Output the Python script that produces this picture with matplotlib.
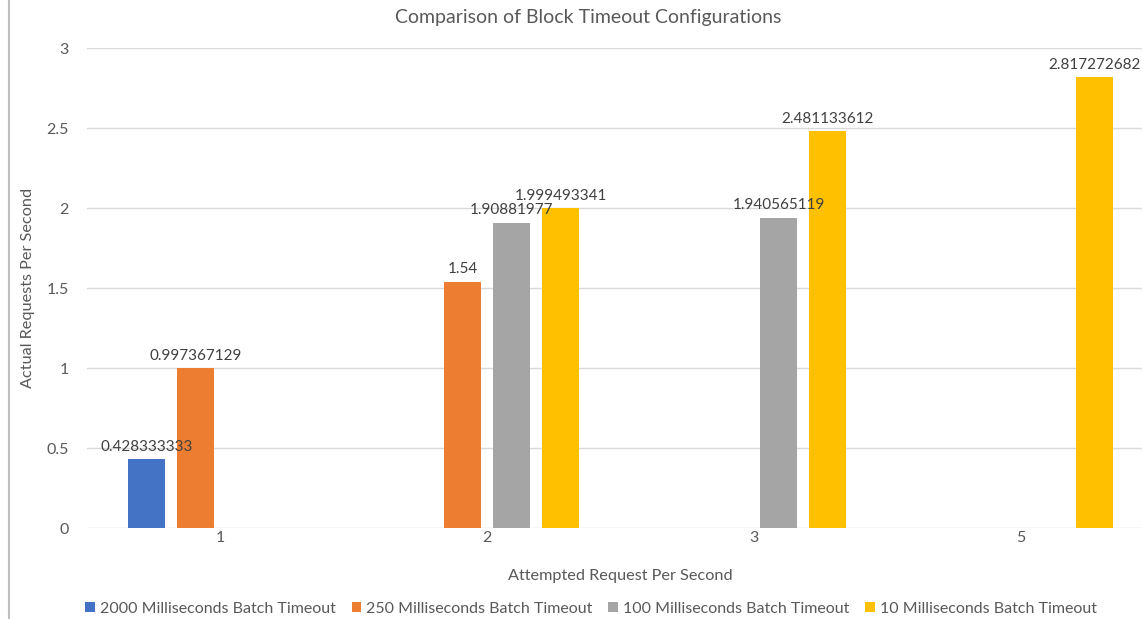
import numpy as np
import matplotlib.pyplot as plt
from matplotlib.lines import Line2D

# data
categories = ["1", "2", "3", "5"]
series_names = [
    "2000 Milliseconds Batch Timeout",
    "250 Milliseconds Batch Timeout",
    "100 Milliseconds Batch Timeout",
    "10 Milliseconds Batch Timeout",
]
timeout_2000 = [0.428333333, None, None, None]
timeout_250 = [0.997367129, 1.54, None, None]
timeout_100 = [None, 1.90881977, 1.940565119, None]
timeout_10 = [None, 1.999493341, 2.481133612, 2.817272682]
y_ticks = [0, 0.5, 1, 1.5, 2, 2.5, 3]

colors = ["#4472C4", "#ED7D31", "#A5A5A5", "#FFC000"]
text_color = "#595959"

plt.rcParams["font.family"] = ["Lato", "DejaVu Sans"]

W, H = 1142, 619
fig = plt.figure(figsize=(W / 100, H / 100), dpi=100)
ax_left, ax_width = 86.5, 1068
ax = fig.add_axes([ax_left / W, 91 / H, ax_width / W, 480 / H])

x = np.arange(len(categories))
slot = 0.1835
width = 0.142
all_series = [timeout_2000, timeout_250, timeout_100, timeout_10]

for j, (name, values) in enumerate(zip(series_names, all_series)):
    xs = [x[i] + (j - 1.5) * slot for i, v in enumerate(values) if v is not None]
    ys = [v for v in values if v is not None]
    ax.bar(xs, ys, width=width, color=colors[j], label=name, zorder=3)
    for xi, yi in zip(xs, ys):
        ax.annotate(f"{yi:.10g}", (xi, yi), xytext=(0, 6), textcoords="offset points",
                    ha="center", va="baseline", fontsize=11, color="#404040", zorder=4)

ax.set_xlim(-0.5, len(categories) - 0.5)
ax.set_ylim(0, 3)
ax.set_yticks(y_ticks)
ax.set_yticklabels([f"{t:g}" for t in y_ticks])
ax.set_xticks(x)
ax.set_xticklabels(categories)
ax.tick_params(axis="both", length=0, labelsize=11.5, labelcolor=text_color)
ax.tick_params(axis="y", pad=13)
ax.tick_params(axis="x", pad=2.5)
ax.yaxis.grid(True, color="#D9D9D9", linewidth=1)
ax.set_axisbelow(True)
for side in ["top", "right", "left", "bottom"]:
    ax.spines[side].set_visible(False)

ax.set_xlabel("Attempted Request Per Second", fontsize=11.7, color=text_color, labelpad=17)
ax.set_ylabel("Actual Requests Per Second", fontsize=11.7, color=text_color)
ax.yaxis.set_label_coords((35 - ax_left) / ax_width, 0.5)
fig.text(588 / W, 1 - 18 / H, "Comparison of Block Timeout Configurations",
         ha="center", va="center", fontsize=14, color=text_color)

ax.legend(loc="center", bbox_to_anchor=(591 / W, 1 - 609 / H), bbox_transform=fig.transFigure,
          ncol=4, frameon=False, fontsize=11.5, labelcolor=text_color,
          handlelength=0.6, handleheight=0.6, handletextpad=0.3, columnspacing=1.0)

# thin border line at the left edge of the screenshot
fig.add_artist(Line2D([9 / W, 9 / W], [0, 1], transform=fig.transFigure,
                      color="#BFBFBF", linewidth=1.5))

fig.savefig("out.png", dpi=100)
